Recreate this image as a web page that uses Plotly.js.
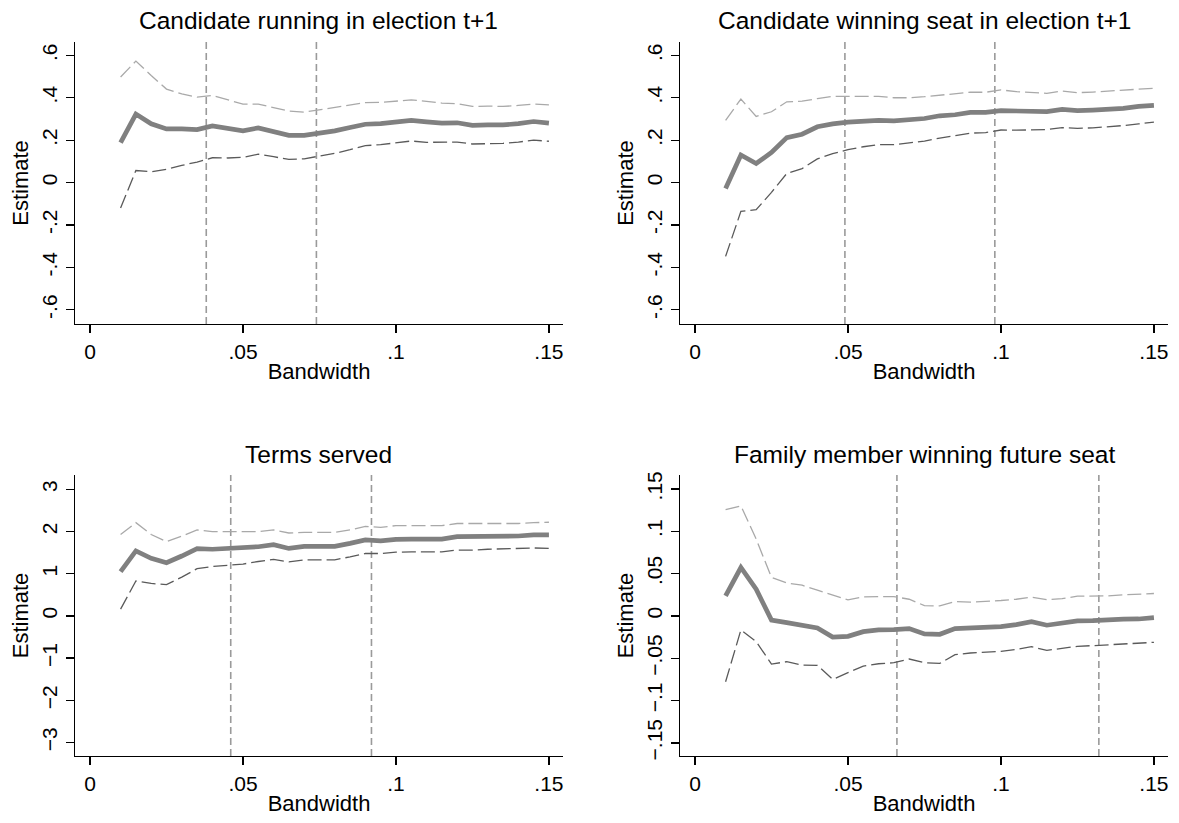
<!DOCTYPE html>
<html>
<head>
<meta charset="utf-8">
<script src="https://cdn.plot.ly/plotly-3.0.1.min.js"></script>
<style>
html,body{margin:0;padding:0;background:#fff;}
#chart{width:1179px;height:823px;}
</style>
</head>
<body>
<div id="chart"></div>
<script>
// Bandwidth values (x)
const bandwidth = [0.010,0.015,0.020,0.025,0.030,0.035,0.040,0.045,0.050,0.055,0.060,0.065,0.070,0.075,0.080,0.085,0.090,0.095,0.100,0.105,0.110,0.115,0.120,0.125,0.130,0.135,0.140,0.145,0.150];

// Panel titles
const panelTitles = ["Candidate running in election t+1","Candidate winning seat in election t+1","Terms served","Family member winning future seat"];

// Panel 1: Candidate running in election t+1
const run_est = [0.188,0.323,0.277,0.253,0.253,0.250,0.267,0.253,0.244,0.258,0.239,0.223,0.223,0.233,0.244,0.260,0.275,0.278,0.286,0.293,0.286,0.280,0.282,0.270,0.272,0.272,0.278,0.288,0.280];
const run_hi  = [0.498,0.573,0.505,0.441,0.418,0.403,0.411,0.390,0.370,0.370,0.354,0.337,0.332,0.343,0.353,0.364,0.377,0.378,0.384,0.390,0.383,0.375,0.372,0.359,0.361,0.359,0.364,0.370,0.366];
const run_lo  = [-0.120,0.057,0.051,0.062,0.081,0.097,0.117,0.116,0.119,0.134,0.122,0.109,0.112,0.125,0.138,0.155,0.174,0.179,0.187,0.196,0.190,0.190,0.191,0.182,0.184,0.185,0.191,0.200,0.195];

// Panel 2: Candidate winning seat in election t+1
const win_est = [-0.028,0.130,0.090,0.142,0.212,0.228,0.263,0.277,0.285,0.290,0.293,0.291,0.296,0.302,0.315,0.320,0.331,0.331,0.339,0.339,0.337,0.335,0.345,0.339,0.342,0.345,0.350,0.359,0.364];
const win_hi  = [0.293,0.394,0.312,0.334,0.381,0.384,0.396,0.407,0.407,0.407,0.407,0.400,0.400,0.405,0.413,0.418,0.426,0.426,0.437,0.429,0.426,0.421,0.432,0.424,0.427,0.432,0.435,0.441,0.445];
const win_lo  = [-0.348,-0.136,-0.128,-0.046,0.043,0.066,0.112,0.136,0.155,0.169,0.179,0.179,0.187,0.196,0.210,0.220,0.233,0.236,0.248,0.247,0.247,0.250,0.259,0.256,0.258,0.263,0.269,0.277,0.285];

// Panel 3: Terms served
const terms_est = [1.05,1.54,1.365,1.26,1.42,1.594,1.58,1.594,1.61,1.64,1.69,1.60,1.65,1.65,1.65,1.72,1.80,1.78,1.815,1.82,1.82,1.82,1.88,1.88,1.894,1.894,1.894,1.92,1.92];
const terms_hi  = [1.93,2.21,1.93,1.76,1.89,2.04,2.00,2.00,2.00,2.00,2.04,1.965,1.98,1.98,1.98,2.04,2.12,2.10,2.14,2.14,2.14,2.14,2.19,2.19,2.19,2.19,2.19,2.21,2.22];
const terms_lo  = [0.16,0.83,0.77,0.74,0.92,1.12,1.17,1.20,1.23,1.29,1.34,1.28,1.33,1.33,1.33,1.40,1.48,1.48,1.51,1.52,1.52,1.52,1.56,1.56,1.58,1.59,1.59,1.61,1.60];

// Panel 4: Family member winning future seat
const fam_est = [0.0237,0.0572,0.0316,-0.0050,-0.0080,-0.0114,-0.0142,-0.0249,-0.0241,-0.0186,-0.0166,-0.0162,-0.0150,-0.0213,-0.0217,-0.0150,-0.0146,-0.0134,-0.0126,-0.0103,-0.0067,-0.0110,-0.0091,-0.0059,-0.0055,-0.0043,-0.0039,-0.0036,-0.0020];
const fam_hi  = [0.1255,0.1300,0.0908,0.0454,0.0390,0.0363,0.0304,0.0245,0.0190,0.0225,0.0225,0.0229,0.0197,0.0122,0.0118,0.0170,0.0162,0.0170,0.0182,0.0197,0.0221,0.0193,0.0205,0.0233,0.0233,0.0237,0.0249,0.0257,0.0265];
const fam_lo  = [-0.0778,-0.0166,-0.0304,-0.0569,-0.0541,-0.0580,-0.0584,-0.0750,-0.0671,-0.0592,-0.0565,-0.0553,-0.0509,-0.0553,-0.0561,-0.0458,-0.0438,-0.0426,-0.0418,-0.0395,-0.0363,-0.0407,-0.0383,-0.0359,-0.0351,-0.0343,-0.0332,-0.0328,-0.0312];

// Optimal-bandwidth reference lines (x positions)
const vlines1 = [0.038,0.074];
const vlines2 = [0.049,0.098];
const vlines3 = [0.046,0.092];
const vlines4 = [0.066,0.132];

// Tick labels
const xTickVals = [0,0.05,0.1,0.15];
const xTickText = ["0",".05",".1",".15"];
const y12TickVals = [-0.6,-0.4,-0.2,0,0.2,0.4,0.6];
const y12TickText = ["-.6","-.4","-.2","0",".2",".4",".6"];
const y3TickVals = [-3,-2,-1,0,1,2,3];
const y3TickText = ["\u22123","\u22122","\u22121","0","1","2","3"];
const y4TickVals = [-0.15,-0.1,-0.05,0,0.05,0.1,0.15];
const y4TickText = ["\u2212.15","\u2212.1","\u2212.05","0",".05",".1",".15"];

const FONT = "Liberation Sans, Arial, Helvetica, sans-serif";
const MAIN_COLOR = "#808080";
const HI_COLOR = "#a9a9a9";
const LO_COLOR = "#5a5a5a";
const VLINE_COLOR = "#9a9a9a";

const panels = [
  {est: run_est, hi: run_hi, lo: run_lo, v: vlines1, yv: y12TickVals, yt: y12TickText, yr: [-0.667, 0.663]},
  {est: win_est, hi: win_hi, lo: win_lo, v: vlines2, yv: y12TickVals, yt: y12TickText, yr: [-0.667, 0.663]},
  {est: terms_est, hi: terms_hi, lo: terms_lo, v: vlines3, yv: y3TickVals, yt: y3TickText, yr: [-3.32, 3.34]},
  {est: fam_est, hi: fam_hi, lo: fam_lo, v: vlines4, yv: y4TickVals, yt: y4TickText, yr: [-0.1655, 0.1665]}
];

const W = 1179, H = 823;
const xDomains = [[75/W, 563/W], [680/W, 1168/W], [75/W, 563/W], [680/W, 1168/W]];
const yDomains = [[1-324/H, 1-42/H], [1-324/H, 1-42/H], [1-756/H, 1-475/H], [1-756/H, 1-475/H]];
const titleY = [1-21/H, 1-21/H, 1-455/H, 1-455/H];

const data = [];
const shapes = [];
const annotations = [];
const layout = {
  width: W, height: H,
  margin: {l:0, r:0, t:0, b:0},
  paper_bgcolor: "#ffffff",
  plot_bgcolor: "#ffffff",
  showlegend: false,
  font: {family: FONT, color: "#000"}
};

panels.forEach((p, i) => {
  const n = i + 1;
  const xa = n === 1 ? "x" : "x" + n;
  const ya = n === 1 ? "y" : "y" + n;
  data.push({x: bandwidth, y: p.hi, xaxis: xa, yaxis: ya, type: "scatter", mode: "lines",
    line: {color: HI_COLOR, width: 1.3, dash: "14px,5px"}, hoverinfo: "skip"});
  data.push({x: bandwidth, y: p.lo, xaxis: xa, yaxis: ya, type: "scatter", mode: "lines",
    line: {color: LO_COLOR, width: 1.3, dash: "14px,5px"}, hoverinfo: "skip"});
  data.push({x: bandwidth, y: p.est, xaxis: xa, yaxis: ya, type: "scatter", mode: "lines",
    line: {color: MAIN_COLOR, width: 4.7}});
  p.v.forEach(v => {
    shapes.push({type: "line", xref: xa, yref: ya + " domain", x0: v, x1: v, y0: 0, y1: 1,
      line: {color: VLINE_COLOR, width: 1.6, dash: "7px,4px"}, layer: "below"});
  });
  layout["xaxis" + (n === 1 ? "" : n)] = {
    domain: xDomains[i], anchor: ya, range: [-0.0049, 0.1546],
    tickmode: "array", tickvals: xTickVals, ticktext: xTickText,
    ticks: "outside", ticklen: 8, tickwidth: 1.3, tickcolor: "#000",
    showline: true, linecolor: "#000", linewidth: 1.3,
    showgrid: false, zeroline: false,
    tickfont: {family: FONT, size: 21, color: "#000"},
    title: {text: "Bandwidth", font: {family: FONT, size: 22, color: "#000"}, standoff: 2}
  };
  layout["yaxis" + (n === 1 ? "" : n)] = {
    domain: yDomains[i], anchor: xa, range: p.yr,
    tickmode: "array", tickvals: p.yv, ticktext: p.yt, tickangle: -90,
    ticks: "outside", ticklen: 8, tickwidth: 1.3, tickcolor: "#000",
    showline: true, linecolor: "#000", linewidth: 1.3,
    showgrid: false, zeroline: false,
    tickfont: {family: FONT, size: 21, color: "#000"},
    title: {text: "Estimate", font: {family: FONT, size: 22, color: "#000"}, standoff: 3}
  };
  annotations.push({text: panelTitles[i], xref: "paper", yref: "paper",
    x: (xDomains[i][0] + xDomains[i][1]) / 2, y: titleY[i], xanchor: "center", yanchor: "middle",
    showarrow: false, font: {family: FONT, size: 24.5, color: "#000"}});
});

layout.shapes = shapes;
layout.annotations = annotations;

Plotly.newPlot("chart", data, layout, {staticPlot: true, displayModeBar: false});
</script>
</body>
</html>
